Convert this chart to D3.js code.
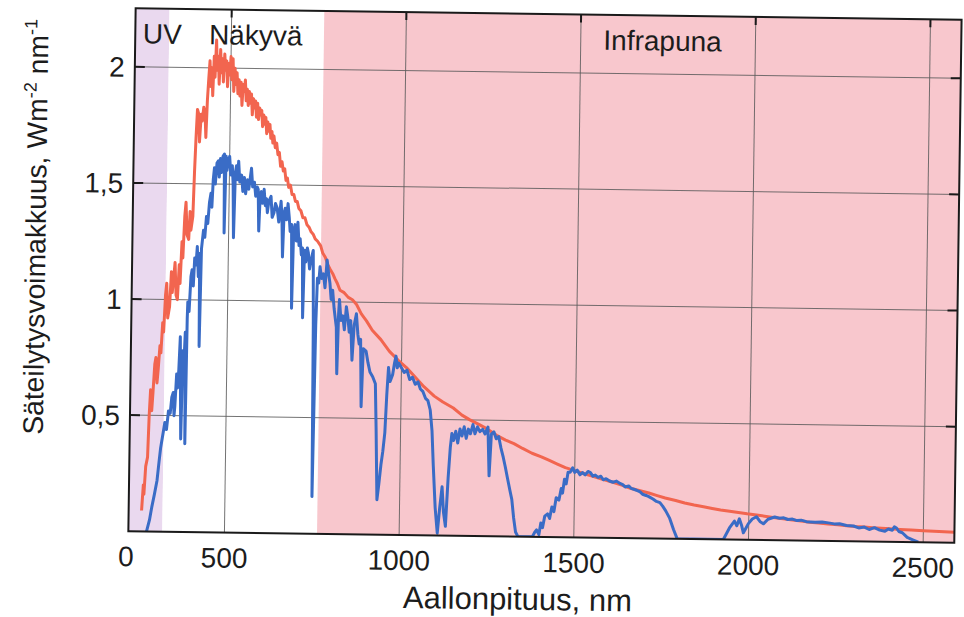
<!DOCTYPE html>
<html>
<head>
<meta charset="utf-8">
<script src="https://cdn.jsdelivr.net/npm/d3@7"></script>
<style>
  body { margin: 0; background: #fff; }
  text { font-family: "Liberation Sans", Arial, sans-serif; fill: #1c1c1c; }
</style>
</head>
<body>
<svg></svg>
<script>
// Spectrum above the atmosphere (red) and at sea level (blue), [nm, W m-2 nm-1]
const topOfAtmosphere = [
  [262, 0.09], [266, 0.20], [268, 0.16], [272, 0.28], [277, 0.32], [280, 0.50], [283, 0.61],
  [287, 0.52], [290, 0.60], [294, 0.72], [297, 0.75], [301, 0.64], [304, 0.70], [308, 0.80],
  [311, 0.77], [315, 0.90], [318, 0.86], [322, 1.02], [325, 1.07], [329, 0.92], [334, 0.97],
  [338, 1.12], [341, 1.03], [345, 1.10], [348, 1.16], [352, 1.02], [356, 1.00], [360, 1.15],
  [363, 1.07], [367, 1.25], [370, 1.18], [374, 1.36], [377, 1.42], [381, 1.28], [386, 1.26],
  [389, 1.38], [392, 1.30], [397, 1.36], [400, 1.55], [403, 1.70], [406, 1.82], [410, 1.80],
  [413, 1.68], [417, 1.80], [420, 1.77], [424, 1.83], [428, 1.80], [431, 1.70], [434, 1.86],
  [437, 1.95], [440, 2.03], [443, 1.92], [446, 2.00], [449, 1.88], [452, 2.05], [455, 1.96],
  [458, 2.12], [461, 1.99], [464, 2.05], [467, 1.93], [470, 2.08], [473, 1.98], [476, 2.04],
  [479, 1.94], [482, 2.06], [485, 1.99], [488, 2.03], [491, 1.92], [494, 2.02], [497, 1.97],
  [500, 2.05], [503, 1.95], [506, 2.04], [509, 1.90], [512, 2.00], [515, 1.93], [518, 1.98],
  [521, 1.89], [524, 1.95], [527, 1.88], [530, 1.94], [533, 1.84], [536, 1.93], [539, 1.90],
  [542, 1.95], [545, 1.86], [548, 1.91], [551, 1.84], [554, 1.90], [557, 1.85], [560, 1.89],
  [563, 1.80], [566, 1.87], [569, 1.83], [572, 1.86], [575, 1.79], [578, 1.85], [581, 1.78],
  [584, 1.83], [587, 1.80], [590, 1.82], [593, 1.75], [596, 1.80], [599, 1.76], [602, 1.79],
  [605, 1.72], [608, 1.77], [611, 1.73], [614, 1.76], [617, 1.70], [620, 1.73], [623, 1.68],
  [626, 1.71], [630, 1.66], [634, 1.68], [638, 1.63], [642, 1.64], [646, 1.58], [650, 1.60],
  [654, 1.56], [658, 1.57], [662, 1.52], [666, 1.53], [670, 1.49], [675, 1.50], [680, 1.46],
  [685, 1.46], [690, 1.43], [695, 1.43], [700, 1.40], [706, 1.39], [712, 1.36], [718, 1.36],
  [724, 1.33], [730, 1.32], [736, 1.30], [742, 1.29], [748, 1.27], [755, 1.26], [764, 1.24],
  [770, 1.21], [778, 1.19], [785, 1.16], [792, 1.14], [800, 1.12], [806, 1.10], [813, 1.08],
  [821, 1.05], [833, 1.04], [845, 1.02], [857, 1.01], [869, 0.99], [883, 0.95], [898, 0.92],
  [915, 0.88], [940, 0.84], [965, 0.79], [992, 0.75], [1015, 0.72], [1040, 0.68],
  [1065, 0.64], [1095, 0.60], [1120, 0.575], [1150, 0.55], [1175, 0.52], [1198, 0.50],
  [1225, 0.48], [1250, 0.46], [1275, 0.435], [1301, 0.415], [1325, 0.40], [1350, 0.38],
  [1377, 0.36], [1404, 0.345], [1427, 0.33], [1450, 0.315], [1473, 0.30], [1496, 0.29],
  [1520, 0.278], [1550, 0.265], [1580, 0.252], [1610, 0.24], [1635, 0.228], [1660, 0.215],
  [1688, 0.205], [1713, 0.196], [1737, 0.185], [1760, 0.175], [1790, 0.165], [1816, 0.155],
  [1843, 0.147], [1870, 0.14], [1895, 0.133], [1919, 0.127], [1945, 0.122], [1970, 0.117],
  [1995, 0.112], [2022, 0.108], [2045, 0.103], [2070, 0.098], [2098, 0.093], [2125, 0.088],
  [2150, 0.084], [2175, 0.08], [2200, 0.077], [2227, 0.073], [2255, 0.07], [2280, 0.067],
  [2305, 0.064], [2331, 0.062], [2355, 0.06], [2380, 0.058], [2405, 0.056], [2433, 0.054],
  [2465, 0.052], [2500, 0.05], [2545, 0.047], [2589, 0.045]
];

const seaLevel = [
  [277, 0], [285, 0.05], [291, 0.105], [298, 0.16], [305, 0.22], [310, 0.30], [314, 0.36],
  [320, 0.42], [325, 0.47], [330, 0.44], [335, 0.52], [340, 0.51], [344, 0.58], [348, 0.60],
  [351, 0.50], [353, 0.54], [357, 0.68], [360, 0.62], [363, 0.70], [366, 0.84], [368, 0.66],
  [371, 0.40], [374, 0.78], [377, 0.71], [380, 0.86], [383, 0.38], [385, 0.92], [386, 0.99],
  [390, 0.95], [394, 1.10], [397, 1.13], [401, 1.06], [404, 1.18], [408, 1.15], [411, 1.23],
  [415, 1.10], [418, 1.20], [420, 0.80], [423, 1.22], [428, 1.30], [432, 1.27], [436, 1.36],
  [440, 1.33], [444, 1.42], [448, 1.46], [451, 1.40], [454, 1.52], [457, 1.57], [460, 1.50],
  [464, 1.59], [468, 1.60], [471, 1.53], [474, 1.61], [477, 1.55], [481, 1.62], [485, 1.63],
  [487, 1.29], [490, 1.62], [493, 1.56], [496, 1.60], [500, 1.62], [504, 1.54], [508, 1.58],
  [511, 1.50], [514, 1.27], [517, 1.55], [520, 1.58], [523, 1.52], [526, 1.60], [530, 1.51],
  [535, 1.54], [539, 1.47], [543, 1.53], [547, 1.46], [552, 1.52], [556, 1.48], [560, 1.53],
  [563, 1.57], [567, 1.49], [572, 1.51], [576, 1.45], [580, 1.49], [583, 1.48], [586, 1.30],
  [589, 1.46], [592, 1.47], [596, 1.42], [600, 1.48], [604, 1.41], [607, 1.44], [610, 1.38],
  [614, 1.43], [620, 1.45], [624, 1.36], [629, 1.38], [633, 1.42], [638, 1.40], [643, 1.34],
  [649, 1.43], [652, 1.36], [655, 1.19], [658, 1.38], [661, 1.40], [665, 1.35], [669, 1.42],
  [673, 1.36], [676, 1.30], [680, 1.33], [683, 0.97], [686, 1.30], [690, 1.33], [694, 1.26],
  [698, 1.34], [702, 1.24], [705, 1.27], [709, 1.20], [712, 1.23], [715, 0.93], [718, 1.22],
  [722, 1.17], [726, 1.23], [729, 1.21], [733, 1.14], [736, 1.17], [740, 1.20], [743, 1.22],
  [746, 0.90], [749, 0.16], [753, 0.90], [756, 1.10], [760, 1.08], [763, 1.15], [768, 1.10],
  [773, 1.12], [778, 1.06], [783, 1.18], [788, 1.12], [792, 1.08], [796, 1.01], [800, 1.05],
  [805, 0.97], [812, 0.89], [815, 0.69], [818, 0.95], [820, 1.01], [825, 0.92], [830, 0.94],
  [835, 0.88], [840, 0.98], [845, 0.93], [849, 0.87], [853, 0.92], [858, 0.75], [863, 0.90],
  [869, 0.95], [874, 0.86], [878, 0.82], [882, 0.84], [886, 0.55], [890, 0.80], [898, 0.79],
  [904, 0.74], [910, 0.70], [918, 0.68], [926, 0.65], [930, 0.45], [935, 0.15], [940, 0.22],
  [945, 0.30], [950, 0.36], [955, 0.44], [959, 0.60], [963, 0.72], [968, 0.66], [975, 0.69],
  [980, 0.74], [984, 0.77], [988, 0.72], [992, 0.74], [1000, 0.72], [1008, 0.70],
  [1016, 0.71], [1024, 0.67], [1032, 0.68], [1040, 0.65], [1048, 0.66], [1055, 0.63],
  [1062, 0.62], [1070, 0.59], [1077, 0.58], [1084, 0.54], [1090, 0.45], [1095, 0.30],
  [1102, 0.12], [1109, 0.01], [1115, 0.12], [1121, 0.21], [1126, 0.10], [1132, 0.04],
  [1138, 0.25], [1143, 0.38], [1147, 0.44], [1152, 0.41], [1158, 0.45], [1164, 0.40],
  [1170, 0.46], [1176, 0.43], [1182, 0.47], [1188, 0.42], [1194, 0.46], [1200, 0.44],
  [1207, 0.48], [1213, 0.44], [1220, 0.47], [1227, 0.45], [1235, 0.46], [1242, 0.44],
  [1250, 0.47], [1255, 0.26], [1260, 0.44], [1267, 0.45], [1274, 0.42], [1281, 0.43],
  [1288, 0.38], [1295, 0.34], [1301, 0.30], [1308, 0.25], [1315, 0.20], [1321, 0.16],
  [1327, 0.08], [1333, 0.02], [1340, 0], [1381, 0], [1388, 0.02], [1393, 0.03], [1400, 0.01],
  [1405, 0.06], [1410, 0.04], [1416, 0.09], [1424, 0.10], [1430, 0.08], [1436, 0.13],
  [1442, 0.11], [1448, 0.17], [1456, 0.16], [1462, 0.21], [1466, 0.19], [1471, 0.25],
  [1476, 0.23], [1481, 0.28], [1487, 0.28], [1494, 0.30], [1500, 0.28], [1507, 0.29],
  [1515, 0.27], [1522, 0.28], [1530, 0.27], [1538, 0.285], [1545, 0.28], [1552, 0.265],
  [1559, 0.27], [1567, 0.26], [1575, 0.265], [1582, 0.25], [1590, 0.255], [1600, 0.245],
  [1610, 0.24], [1620, 0.245], [1630, 0.235], [1638, 0.23], [1645, 0.22], [1655, 0.225],
  [1662, 0.215], [1672, 0.21], [1680, 0.205], [1688, 0.20], [1695, 0.19], [1705, 0.185],
  [1713, 0.18], [1725, 0.17], [1735, 0.16], [1745, 0.155], [1753, 0.14], [1762, 0.12],
  [1773, 0.09], [1785, 0.04], [1796, 0], [1928, 0], [1945, 0.05], [1959, 0.08], [1966, 0.06],
  [1973, 0.09], [1980, 0.06], [1985, 0.03], [1992, 0.05], [1999, 0.07], [2010, 0.09],
  [2022, 0.10], [2032, 0.08], [2042, 0.07], [2055, 0.09], [2074, 0.10], [2088, 0.095],
  [2100, 0.097], [2112, 0.09], [2125, 0.092], [2138, 0.086], [2150, 0.088], [2165, 0.082],
  [2190, 0.08], [2210, 0.081], [2228, 0.078], [2245, 0.074], [2260, 0.075], [2280, 0.068],
  [2300, 0.066], [2315, 0.058], [2331, 0.062], [2345, 0.052], [2360, 0.06], [2375, 0.05],
  [2390, 0.045], [2400, 0.055], [2411, 0.05], [2417, 0.065], [2423, 0.06], [2430, 0.045],
  [2440, 0.04], [2454, 0.02], [2470, 0.01], [2486, 0]
];

// Spectral bands shaded behind the curves
const bands = [
  { name: "UV", from: 225, to: 322, color: "#ead9ef" },
  { name: "Näkyvä", from: 322, to: 765, color: "#ffffff" },
  { name: "Infrapuna", from: 765, to: 2589, color: "#f8c7cd" }
];
const bandLabels = [
  { text: "UV", nm: 247 },
  { text: "Näkyvä", nm: 436 },
  { text: "Infrapuna", nm: 1565 }
];

const xTicks = [500, 1000, 1500, 2000, 2500];
const yTicks = [0.5, 1, 1.5, 2];
const yTickLabels = ["0,5", "1", "1,5", "2"];

const width = 964;
const height = 617;
const plot = { left: 132, right: 958, top: 14, bottom: 537 };

const svg = d3.select("svg")
    .attr("width", width)
    .attr("height", height);

// the scanned original sits slightly tilted
const root = svg.append("g")
    .attr("transform", "rotate(0.8, 545, 273)");

const x = d3.scaleLinear()
    .domain([225, 2589])
    .range([plot.left, plot.right]);

const y = d3.scaleLinear()
    .domain([0, 2.252])
    .range([plot.bottom, plot.top]);

root.append("clipPath")
    .attr("id", "plot-clip")
  .append("rect")
    .attr("x", plot.left)
    .attr("y", plot.top)
    .attr("width", plot.right - plot.left)
    .attr("height", plot.bottom - plot.top);

// band backgrounds
root.append("g")
  .selectAll("rect")
  .data(bands)
  .join("rect")
    .attr("x", d => x(d.from))
    .attr("y", plot.top)
    .attr("width", d => x(d.to) - x(d.from))
    .attr("height", plot.bottom - plot.top)
    .attr("fill", d => d.color);

// grid lines
const grid = root.append("g")
    .attr("stroke", "#5a5a5a")
    .attr("stroke-width", 1)
    .attr("stroke-opacity", 0.85);

grid.selectAll(".vgrid")
  .data(xTicks)
  .join("line")
    .attr("class", "vgrid")
    .attr("x1", d => x(d)).attr("x2", d => x(d))
    .attr("y1", plot.top).attr("y2", plot.bottom);

grid.selectAll(".hgrid")
  .data(yTicks)
  .join("line")
    .attr("class", "hgrid")
    .attr("x1", plot.left).attr("x2", plot.right)
    .attr("y1", d => y(d)).attr("y2", d => y(d));

// spectrum lines
const line = d3.line()
    .x(d => x(d[0]))
    .y(d => y(d[1]));

const curves = root.append("g")
    .attr("clip-path", "url(#plot-clip)")
    .attr("fill", "none")
    .attr("stroke-linejoin", "round");

curves.append("path")
    .datum(topOfAtmosphere)
    .attr("stroke", "#f2654f")
    .attr("stroke-width", 3)
    .attr("d", line);

curves.append("path")
    .datum(seaLevel)
    .attr("stroke", "#3a6cc6")
    .attr("stroke-width", 3)
    .attr("d", line);

// inward ticks: top, left and right
const ticks = root.append("g")
    .attr("stroke", "#1a1a1a")
    .attr("stroke-width", 2);

ticks.selectAll(".ttick")
  .data(xTicks)
  .join("line")
    .attr("class", "ttick")
    .attr("x1", d => x(d)).attr("x2", d => x(d))
    .attr("y1", plot.top).attr("y2", plot.top + 8);

ticks.selectAll(".ltick")
  .data(yTicks)
  .join("line")
    .attr("class", "ltick")
    .attr("x1", plot.left).attr("x2", plot.left + 10)
    .attr("y1", d => y(d)).attr("y2", d => y(d));

ticks.selectAll(".rtick")
  .data(yTicks)
  .join("line")
    .attr("class", "rtick")
    .attr("x1", plot.right - 10).attr("x2", plot.right)
    .attr("y1", d => y(d)).attr("y2", d => y(d));

// frame
root.append("rect")
    .attr("x", plot.left)
    .attr("y", plot.top)
    .attr("width", plot.right - plot.left)
    .attr("height", plot.bottom - plot.top)
    .attr("fill", "none")
    .attr("stroke", "#1a1a1a")
    .attr("stroke-width", 2);

// tick labels
root.append("g")
  .selectAll("text")
  .data(xTicks)
  .join("text")
    .attr("x", d => x(d))
    .attr("y", 572)
    .attr("text-anchor", "middle")
    .attr("font-size", 28)
    .text(d => d);

root.append("text")
    .attr("x", x.range()[0] - 2)
    .attr("y", 572)
    .attr("text-anchor", "middle")
    .attr("font-size", 28)
    .text("0");

root.append("g")
  .selectAll("text")
  .data(yTicks)
  .join("text")
    .attr("x", 122)
    .attr("y", d => y(d))
    .attr("dy", "0.36em")
    .attr("text-anchor", "end")
    .attr("font-size", 28)
    .text((d, i) => yTickLabels[i]);

// band labels
root.append("g")
  .selectAll("text")
  .data(bandLabels)
  .join("text")
    .attr("x", d => x(d.nm))
    .attr("y", 49)
    .attr("font-size", 28)
    .text(d => d.text);

// axis titles
root.append("text")
    .attr("x", 522)
    .attr("y", 610)
    .attr("text-anchor", "middle")
    .attr("font-size", 31)
    .text("Aallonpituus, nm");

const yTitle = root.append("text")
    .attr("transform", "translate(45,234) rotate(-90)")
    .attr("text-anchor", "middle")
    .attr("font-size", 28.3);
yTitle.append("tspan").text("Säteilytysvoimakkuus, Wm");
yTitle.append("tspan").attr("dy", -11).attr("font-size", 18).text("-2");
yTitle.append("tspan").attr("dy", 11).text(" nm");
yTitle.append("tspan").attr("dy", -11).attr("font-size", 18).text("-1");
</script>
</body>
</html>
